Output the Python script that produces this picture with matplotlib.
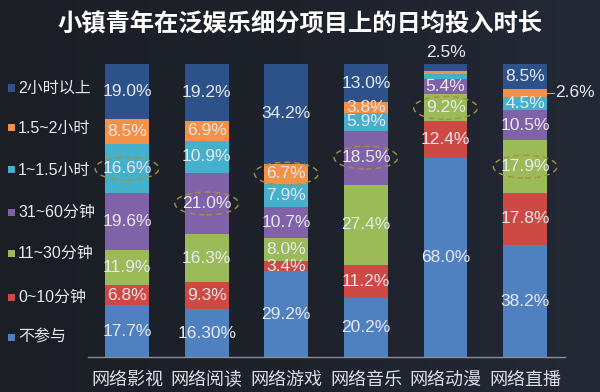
import numpy as np
import matplotlib
matplotlib.use('Agg')
import matplotlib.pyplot as plt
from matplotlib.patches import Ellipse, Rectangle
from matplotlib.colors import LinearSegmentedColormap

plt.rcParams['font.family'] = ['Liberation Sans', 'Noto Sans CJK SC', 'DejaVu Sans']

categories = ['网络影视', '网络阅读', '网络游戏', '网络音乐', '网络动漫', '网络直播']
series = ['不参与', '0~10分钟', '11~30分钟', '31~60分钟', '1~1.5小时', '1.5~2小时', '2小时以上']

none_ = [17.7, 16.3, 29.2, 20.2, 68.0, 38.2]
m0_10 = [6.8, 9.3, 3.4, 11.2, 12.4, 17.8]
m11_30 = [11.9, 16.3, 8.0, 27.4, 9.2, 17.9]
m31_60 = [19.6, 21.0, 10.7, 18.5, 5.4, 10.5]
h1_15 = [16.6, 10.9, 7.9, 5.9, 1.7, 4.5]
h15_2 = [8.5, 6.9, 6.7, 3.8, 0.8, 2.6]
h2_up = [19.0, 19.2, 34.2, 13.0, 2.5, 8.5]

labels = [
    ['17.7%', '16.30%', '29.2%', '20.2%', '68.0%', '38.2%'],
    ['6.8%', '9.3%', '3.4%', '11.2%', '12.4%', '17.8%'],
    ['11.9%', '16.3%', '8.0%', '27.4%', '9.2%', '17.9%'],
    ['19.6%', '21.0%', '10.7%', '18.5%', '5.4%', '10.5%'],
    ['16.6%', '10.9%', '7.9%', '5.9%', '', '4.5%'],
    ['8.5%', '6.9%', '6.7%', '3.8%', '', ''],
    ['19.0%', '19.2%', '34.2%', '13.0%', '', '8.5%'],
]
# (series index, category index) of the circled labels
circled = [(4, 0), (3, 1), (5, 2), (3, 3), (2, 4), (2, 5)]

colors = ['#4f81c0', '#cc4944', '#9bbb59', '#8062a8', '#45b0cc', '#f39147', '#2d528a']
txt = '#e8e8f0'

data = np.array([none_, m0_10, m11_30, m31_60, h1_15, h15_2, h2_up])

fig = plt.figure(figsize=(6, 3.92), dpi=100)
fig.patch.set_facecolor('#1d2129')

# background gradient
bg = fig.add_axes([0, 0, 1, 1], zorder=-10)
grad = np.linspace(0, 1, 256).reshape(1, -1)
cm = LinearSegmentedColormap.from_list('bg', ['#1b1e25', '#1e222b', '#232936'])
bg.imshow(grad, aspect='auto', cmap=cm, extent=[0, 1, 0, 1])
bg.axis('off')

ax = fig.add_axes([88 / 600, 35 / 392, 477 / 600, 293 / 392])
ax.set_facecolor('none')
x = np.arange(len(categories))
bottom = np.zeros(len(categories))
for i, vals in enumerate(data):
    ax.bar(x, vals, 0.55, bottom=bottom, color=colors[i], linewidth=0)
    for j, v in enumerate(vals):
        if labels[i][j]:
            ax.text(x[j], bottom[j] + v / 2, labels[i][j], ha='center', va='center',
                    color=txt, fontsize=12.5, clip_on=False)
    bottom += vals

# special labels outside the bars
ax.text(x[4], 104, '2.5%', ha='center', va='center', color=txt, fontsize=12.5, clip_on=False)
y26 = bottom[5] - h2_up[5] - h15_2[5] / 2
ax.plot([x[5] + 0.275, x[5] + 0.36], [y26, y26], color='#aaaaaa', lw=0.8, clip_on=False)
ax.text(x[5] + 0.38, y26, '2.6%', ha='left', va='center', color=txt, fontsize=12.5, clip_on=False)

for si, ci in circled:
    yc = data[:si, ci].sum() + data[si, ci] / 2
    ax.add_patch(Ellipse((x[ci], yc), 0.8, 7.8, fill=False, edgecolor='#a88f3a',
                         linestyle=(0, (4, 3)), lw=1.0, clip_on=False))

ax.set_xlim(-0.49, 5.5)
ax.set_ylim(0, 100)
for s in ['top', 'right', 'left']:
    ax.spines[s].set_visible(False)
ax.spines['bottom'].set_color('#8a8d94')
ax.spines['bottom'].set_linewidth(1.0)
ax.set_yticks([])
ax.set_xticks(x)
ax.set_xticklabels(categories, color='#dcdce4', fontsize=13)
ax.tick_params(axis='x', length=0, pad=11)

fig.text(0.5, 1 - 24 / 392, '小镇青年在泛娱乐细分项目上的日均投入时长', ha='center', va='center',
         color='white', fontsize=17.5, fontweight='bold')

# legend on the left
leg_y = [88, 128, 170, 212, 253, 297, 337]
for k in range(len(series)):
    si = len(series) - 1 - k
    yy = 1 - leg_y[k] / 392
    fig.add_artist(Rectangle((8 / 600, yy - 3.5 / 392), 7 / 600, 7 / 392,
                             transform=fig.transFigure, color=colors[si], lw=0))
    fig.text(18 / 600, yy, series[si], ha='left', va='center', color=txt, fontsize=11.5)

fig.savefig('out.png', dpi=100, facecolor=fig.get_facecolor())
